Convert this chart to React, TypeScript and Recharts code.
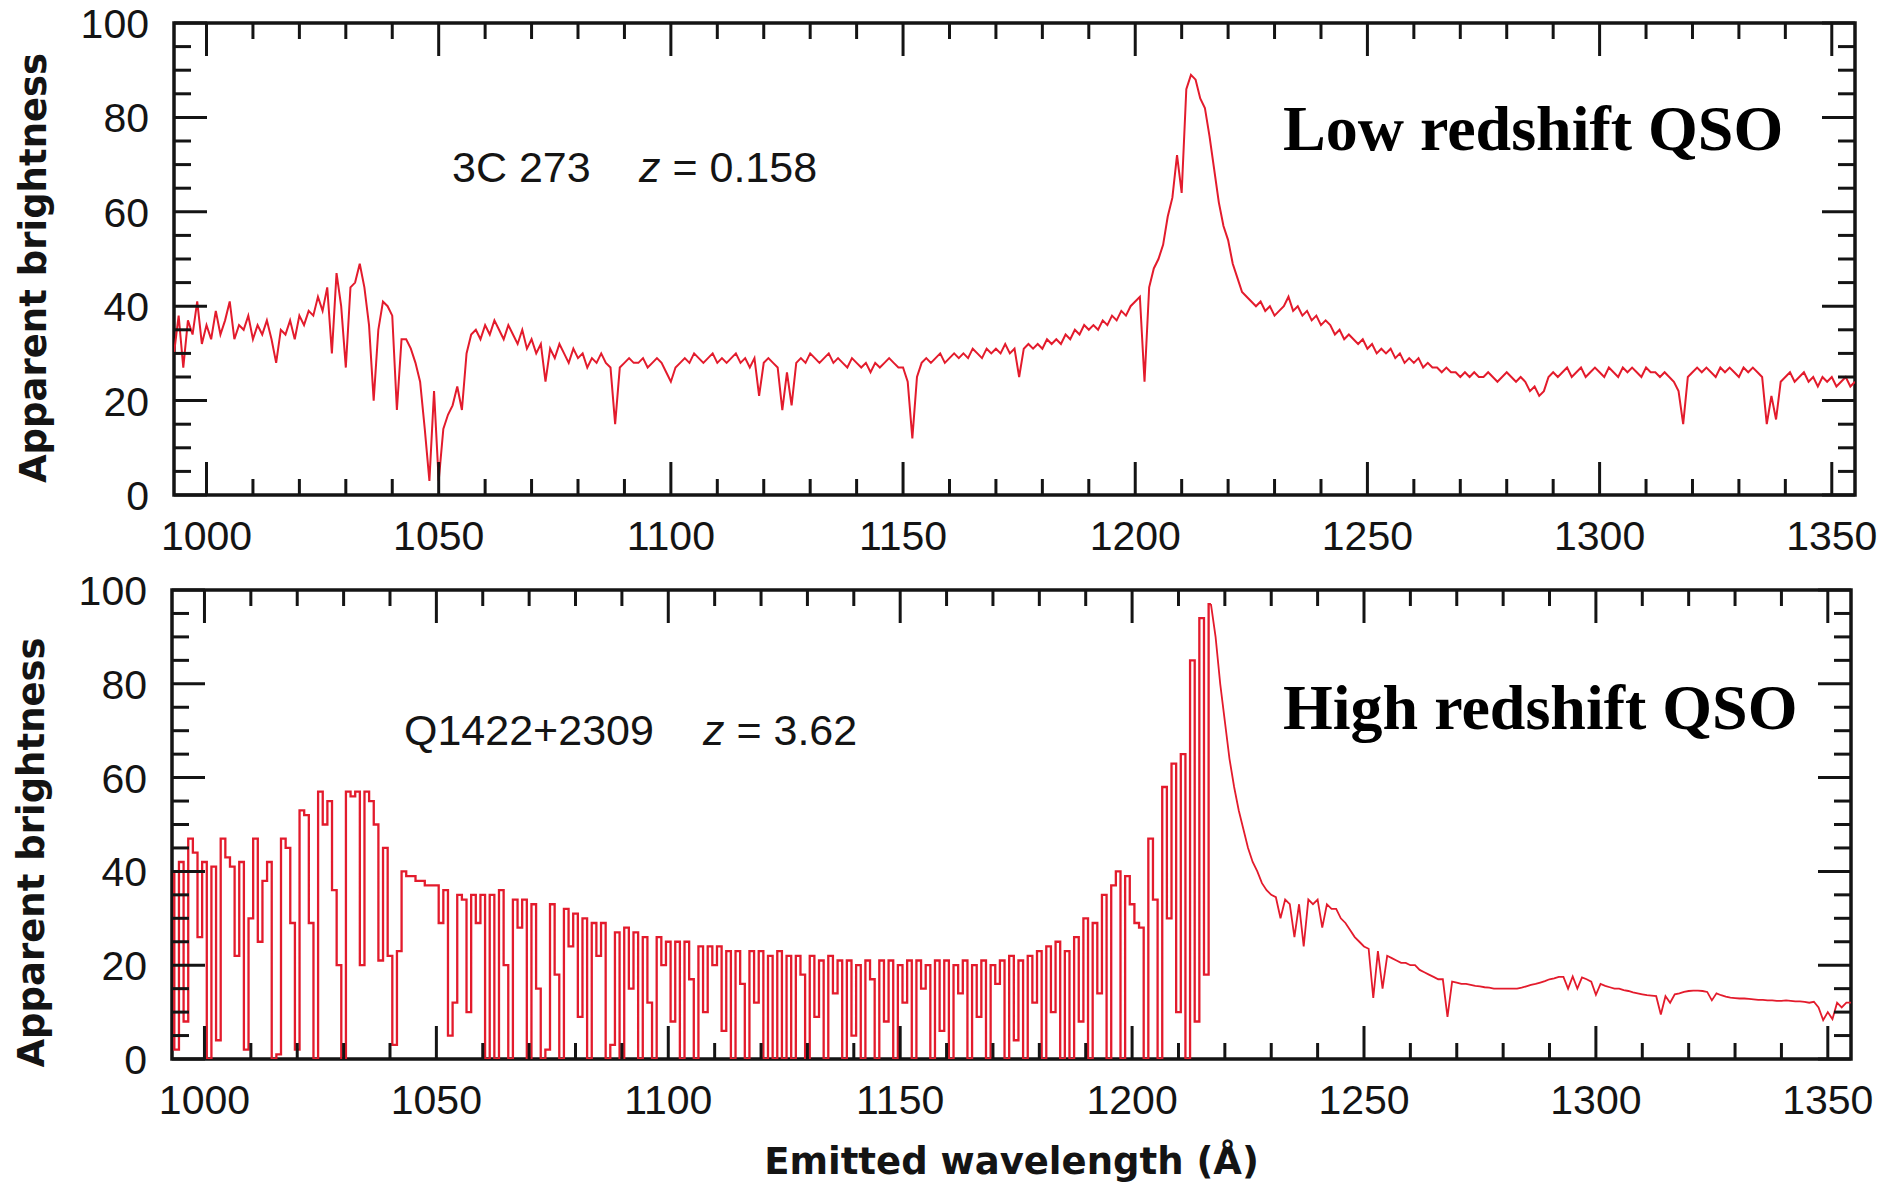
import { LineChart, Line, XAxis, YAxis, ReferenceArea } from 'recharts';

// wavelength grid (Å), one sample per Å
const WAVE_START = 993;
const WAVE_END = 1355;

// 3C 273, z = 0.158 — apparent brightness, 993..1355 Å
const lowZFlux = [
  30, 38, 27, 37, 34, 41, 32, 36, 33, 39, // 993
  34, 37, 41, 33, 36, 35, 38, 33, 36, 34, // 1003
  37, 33, 28, 35, 34, 37, 33, 38, 36, 39, // 1013
  38, 42, 39, 44, 30, 47, 40, 27, 44, 45, // 1023
  49, 44, 36, 20, 35, 41, 40, 38, 18, 33, // 1033
  33, 31, 28, 24, 14, 3, 22, 3, 14, 17, // 1043
  19, 23, 18, 30, 34, 35, 33, 36, 34, 37, // 1053
  35, 33, 36, 34, 32, 35, 31, 33, 30, 32, // 1063
  24, 31, 29, 32, 30, 28, 31, 29, 30, 27, // 1073
  29, 28, 30, 28, 27, 15, 27, 28, 29, 28, // 1083
  28, 29, 27, 28, 29, 28, 26, 24, 27, 28, // 1093
  29, 28, 30, 29, 28, 29, 30, 28, 29, 28, // 1103
  29, 30, 28, 29, 27, 29, 21, 28, 29, 28, // 1113
  27, 18, 26, 19, 28, 29, 28, 30, 29, 28, // 1123
  29, 30, 28, 29, 28, 27, 29, 28, 27, 28, // 1133
  26, 28, 27, 28, 29, 28, 27, 27, 24, 12, // 1143
  25, 28, 29, 28, 29, 30, 28, 29, 30, 29, // 1153
  30, 29, 31, 30, 29, 31, 30, 31, 30, 32, // 1163
  30, 31, 25, 31, 32, 31, 32, 31, 33, 32, // 1173
  33, 32, 34, 33, 35, 34, 36, 35, 36, 35, // 1183
  37, 36, 38, 37, 39, 38, 40, 41, 42, 24, // 1193
  44, 48, 50, 53, 59, 63, 72, 64, 86, 89, // 1203
  88, 84, 82, 76, 69, 62, 57, 54, 49, 46, // 1213
  43, 42, 41, 40, 41, 39, 40, 38, 39, 40, // 1223
  42, 39, 40, 38, 39, 37, 38, 36, 37, 36, // 1233
  34, 35, 33, 34, 33, 32, 33, 31, 32, 30, // 1243
  31, 30, 31, 29, 30, 28, 29, 28, 29, 27, // 1253
  28, 27, 27, 26, 27, 26, 26, 25, 26, 25, // 1263
  26, 25, 25, 26, 25, 24, 25, 26, 25, 24, // 1273
  25, 24, 22, 23, 21, 22, 25, 26, 25, 26, // 1283
  27, 25, 26, 27, 25, 26, 27, 26, 25, 27, // 1293
  26, 25, 27, 26, 27, 26, 25, 27, 26, 26, // 1303
  25, 26, 25, 24, 22, 15, 25, 26, 27, 26, // 1313
  27, 26, 25, 27, 26, 27, 26, 25, 27, 26, // 1323
  27, 26, 25, 15, 21, 16, 24, 25, 26, 24, // 1333
  25, 26, 24, 25, 23, 25, 24, 25, 23, 24, // 1343
  25, 23, 24, // 1353
];

// Q1422+2309, z = 3.62 — Lyman-alpha forest, 993..1217 Å
const forestFlux = [
  40, 2, 42, 8, 47, 44, 26, 42, 0, 41, // 993
  4, 47, 43, 41, 22, 42, 2, 30, 47, 25, // 1003
  38, 42, 0, 1, 47, 45, 29, 2, 53, 52, // 1013
  29, 0, 57, 50, 55, 36, 20, 0, 57, 56, // 1023
  57, 20, 57, 55, 50, 21, 45, 22, 3, 23, // 1033
  40, 39, 39, 38, 38, 37, 37, 37, 29, 36, // 1043
  5, 12, 35, 34, 10, 35, 29, 35, 0, 35, // 1053
  0, 36, 20, 0, 34, 28, 34, 0, 33, 15, // 1063
  0, 2, 33, 18, 0, 32, 24, 31, 9, 30, // 1073
  0, 29, 22, 29, 0, 3, 27, 0, 28, 15, // 1083
  27, 0, 26, 12, 0, 26, 20, 25, 8, 25, // 1093
  0, 25, 17, 0, 24, 10, 24, 20, 24, 6, // 1103
  23, 0, 23, 16, 0, 23, 12, 23, 0, 22, // 1113
  0, 23, 0, 22, 0, 22, 18, 0, 22, 9, // 1123
  21, 0, 22, 14, 21, 0, 21, 5, 20, 0, // 1133
  21, 17, 0, 21, 8, 21, 0, 20, 12, 21, // 1143
  0, 21, 15, 20, 0, 21, 6, 21, 0, 20, // 1153
  14, 21, 0, 20, 9, 21, 0, 20, 16, 21, // 1163
  0, 22, 4, 21, 0, 22, 12, 23, 0, 24, // 1173
  10, 25, 0, 23, 0, 26, 8, 30, 0, 29, // 1183
  14, 35, 0, 37, 40, 0, 39, 33, 29, 28, // 1193
  0, 47, 34, 0, 58, 30, 63, 10, 65, 0, // 1203
  85, 8, 94, 18, 97, // 1213
];

// Q1422+2309 — red side of Lyman-alpha, 1217..1355 Å
const WING_START = 1217;
const wingFlux = [
  97, 90, 80, 72, 64, 58, 53, 49, 45, 42, // 1217
  40, 37.5, 36, 35, 34.5, 30, 34, 33, 26, 33, // 1227
  24, 34, 33, 34, 28, 33, 32, 32, 30, 29, // 1237
  27.5, 26, 25, 24, 23.5, 13, 23, 15, 22, 21.5, // 1247
  21, 20.5, 20.5, 20, 20, 19, 18.5, 18, 17.5, 17, // 1257
  17, 9, 16.5, 16.3, 16, 16, 15.8, 15.6, 15.5, 15.3, // 1267
  15.2, 15, 15, 15, 15, 15, 15, 15.2, 15.5, 15.8, // 1277
  16, 16.3, 16.6, 17, 17.2, 17.5, 17.5, 15, 17.6, 15, // 1287
  17.4, 17, 16.5, 13.7, 16, 15.6, 15.3, 15, 15, 14.7, // 1297
  14.5, 14.2, 14, 13.8, 13.6, 13.5, 13.4, 9.5, 13.4, 12, // 1307
  13.8, 14, 14.3, 14.5, 14.6, 14.6, 14.5, 14.3, 12.5, 14, // 1317
  13.6, 13.3, 13.1, 13, 12.9, 12.9, 12.8, 12.7, 12.6, 12.6, // 1327
  12.5, 12.5, 12.4, 12.4, 12.5, 12.4, 12.3, 12.3, 12.2, 12, // 1337
  12.2, 11, 8.3, 10, 8.5, 12, 11, 12, 12, // 1347
];

const xTicks = [
  1000, 1010, 1020, 1030, 1040, 1050, 1060, 1070, 1080, 1090, 1100, 1110,
  1120, 1130, 1140, 1150, 1160, 1170, 1180, 1190, 1200, 1210, 1220, 1230,
  1240, 1250, 1260, 1270, 1280, 1290, 1300, 1310, 1320, 1330, 1340, 1350,
];
const yTicks = [0, 5, 10, 15, 20, 25, 30, 35, 40, 45, 50, 55, 60, 65, 70, 75, 80, 85, 90, 95, 100];

const RED = '#e31b2c';
const INK = '#141414';
const SANS = '"Liberation Sans", Arial, Helvetica, sans-serif';
const BOLD_SANS = '"DejaVu Sans", Verdana, sans-serif';
const SERIF = '"Liberation Serif", "Times New Roman", serif';

const Y_AXIS_W = 100;
const X_AXIS_H = 60;

const toPoints = (start: number, values: number[]) =>
  values.map((flux, i) => ({ w: start + i, flux }));

const lowZData = toPoints(WAVE_START, lowZFlux);
const forestData = toPoints(WAVE_START, forestFlux);
const wingData = toPoints(WING_START, wingFlux);

// ticks point inward on all four sides of the frame
function makeXTick(plotH: number) {
  return (props: any) => {
    const { x, y, payload } = props;
    const v = payload.value;
    const major = v % 50 === 0;
    const len = major ? 33 : 16;
    return (
      <g>
        <line x1={x} x2={x} y1={y} y2={y - len} stroke={INK} strokeWidth={3} />
        <line x1={x} x2={x} y1={y - plotH} y2={y - plotH + len} stroke={INK} strokeWidth={3} />
        {major && (
          <text x={x} y={y + 55} textAnchor="middle" fontFamily={SANS} fontSize={41} fill={INK}>
            {v}
          </text>
        )}
      </g>
    );
  };
}

function makeYTick(plotW: number) {
  return (props: any) => {
    const { x, y, payload } = props;
    const v = payload.value;
    const major = v % 20 === 0;
    const len = major ? 33 : 17;
    return (
      <g>
        <line x1={x} x2={x + len} y1={y} y2={y} stroke={INK} strokeWidth={3} />
        <line x1={x + plotW} x2={x + plotW - len} y1={y} y2={y} stroke={INK} strokeWidth={3} />
        {major && (
          <text x={x - 25} y={y + 15} textAnchor="end" fontFamily={SANS} fontSize={41} fill={INK}>
            {v}
          </text>
        )}
      </g>
    );
  };
}

function yTitle(fallback: { x: number; y: number; width: number; height: number }, shift: number) {
  return (props: any) => {
    const vb = props && props.viewBox && props.viewBox.height ? props.viewBox : fallback;
    const cx = vb.x + vb.width - 128;
    const cy = vb.y + vb.height / 2 + shift;
    return (
      <text
        x={cx}
        y={cy}
        transform={`rotate(-90 ${cx} ${cy})`}
        textAnchor="middle"
        fontFamily={BOLD_SANS}
        fontWeight="bold"
        fontSize={37}
        fill={INK}
      >
        Apparent brightness
      </text>
    );
  };
}

function xTitle(fallback: { x: number; y: number; width: number }) {
  return (props: any) => {
    const vb = props && props.viewBox && props.viewBox.width ? props.viewBox : fallback;
    return (
      <text
        x={vb.x + vb.width / 2}
        y={vb.y + 115}
        textAnchor="middle"
        fontFamily={BOLD_SANS}
        fontWeight="bold"
        fontSize={37}
        fill={INK}
      >
        Emitted wavelength (Å)
      </text>
    );
  };
}

const TOP = { w: 1902, h: 560, left: 174, right: 1855, top: 23, bottom: 495 };
const BOT = { w: 1902, h: 623, left: 172, right: 1851, top: 30, bottom: 499, pageTop: 560 };

function Panel({
  box,
  titleShift,
  withXTitle,
  children,
}: {
  box: typeof TOP;
  titleShift: number;
  withXTitle: boolean;
  children: any;
}) {
  const plotW = box.right - box.left;
  const plotH = box.bottom - box.top;
  return (
    <LineChart
      width={box.w}
      height={box.h}
      margin={{
        top: box.top,
        right: box.w - box.right,
        bottom: box.h - box.bottom - X_AXIS_H,
        left: box.left - Y_AXIS_W,
      }}
    >
      <ReferenceArea
        x1={WAVE_START}
        x2={WAVE_END}
        y1={0}
        y2={100}
        fill="none"
        stroke={INK}
        strokeWidth={3.5}
      />
      <XAxis
        dataKey="w"
        type="number"
        domain={[WAVE_START, WAVE_END]}
        allowDataOverflow
        ticks={xTicks}
        interval={0}
        height={X_AXIS_H}
        tickSize={0}
        tickMargin={0}
        axisLine={false}
        tickLine={false}
        tick={makeXTick(plotH)}
        label={
          withXTitle
            ? { content: xTitle({ x: box.left, y: box.bottom, width: plotW }) }
            : undefined
        }
      />
      <YAxis
        type="number"
        domain={[0, 100]}
        allowDataOverflow
        ticks={yTicks}
        interval={0}
        width={Y_AXIS_W}
        tickSize={0}
        tickMargin={0}
        axisLine={false}
        tickLine={false}
        tick={makeYTick(plotW)}
        label={{
          content: yTitle(
            { x: box.left - Y_AXIS_W, y: box.top, width: Y_AXIS_W, height: plotH },
            titleShift
          ),
        }}
      />
      {children}
    </LineChart>
  );
}

export default function App() {
  return (
    <div
      style={{
        position: 'absolute',
        left: 0,
        top: 0,
        width: 1902,
        height: 1183,
        overflow: 'hidden',
        background: '#fff',
      }}
    >
      <div style={{ position: 'absolute', left: 0, top: 0 }}>
        <Panel box={TOP} titleShift={9} withXTitle={false}>
          <Line
            data={lowZData}
            dataKey="flux"
            type="linear"
            stroke={RED}
            strokeWidth={2}
            dot={false}
            activeDot={false}
            isAnimationActive={false}
          />
        </Panel>
      </div>

      <div style={{ position: 'absolute', left: 0, top: BOT.pageTop }}>
        <Panel box={BOT} titleShift={28} withXTitle={true}>
          <Line
            data={forestData}
            dataKey="flux"
            type="step"
            stroke={RED}
            strokeWidth={2.3}
            dot={false}
            activeDot={false}
            isAnimationActive={false}
          />
          <Line
            data={wingData}
            dataKey="flux"
            type="linear"
            stroke={RED}
            strokeWidth={1.8}
            dot={false}
            activeDot={false}
            isAnimationActive={false}
          />
        </Panel>
      </div>

      {/* panel annotations */}
      <svg
        width={1902}
        height={1183}
        style={{ position: 'absolute', left: 0, top: 0, pointerEvents: 'none' }}
      >
        <g fontFamily={SANS} fontSize={43} fill={INK}>
          <text x={452} y={182}>3C 273</text>
          <text x={639} y={182}>
            <tspan fontStyle="italic">z</tspan> = 0.158
          </text>
          <text x={404} y={745}>Q1422+2309</text>
          <text x={703} y={745}>
            <tspan fontStyle="italic">z</tspan> = 3.62
          </text>
        </g>
        <g fontFamily={SERIF} fontWeight="bold" fontSize={64} fill="#000">
          <text x={1283} y={150}>Low redshift QSO</text>
          <text x={1283} y={729}>High redshift QSO</text>
        </g>
      </svg>
    </div>
  );
}
